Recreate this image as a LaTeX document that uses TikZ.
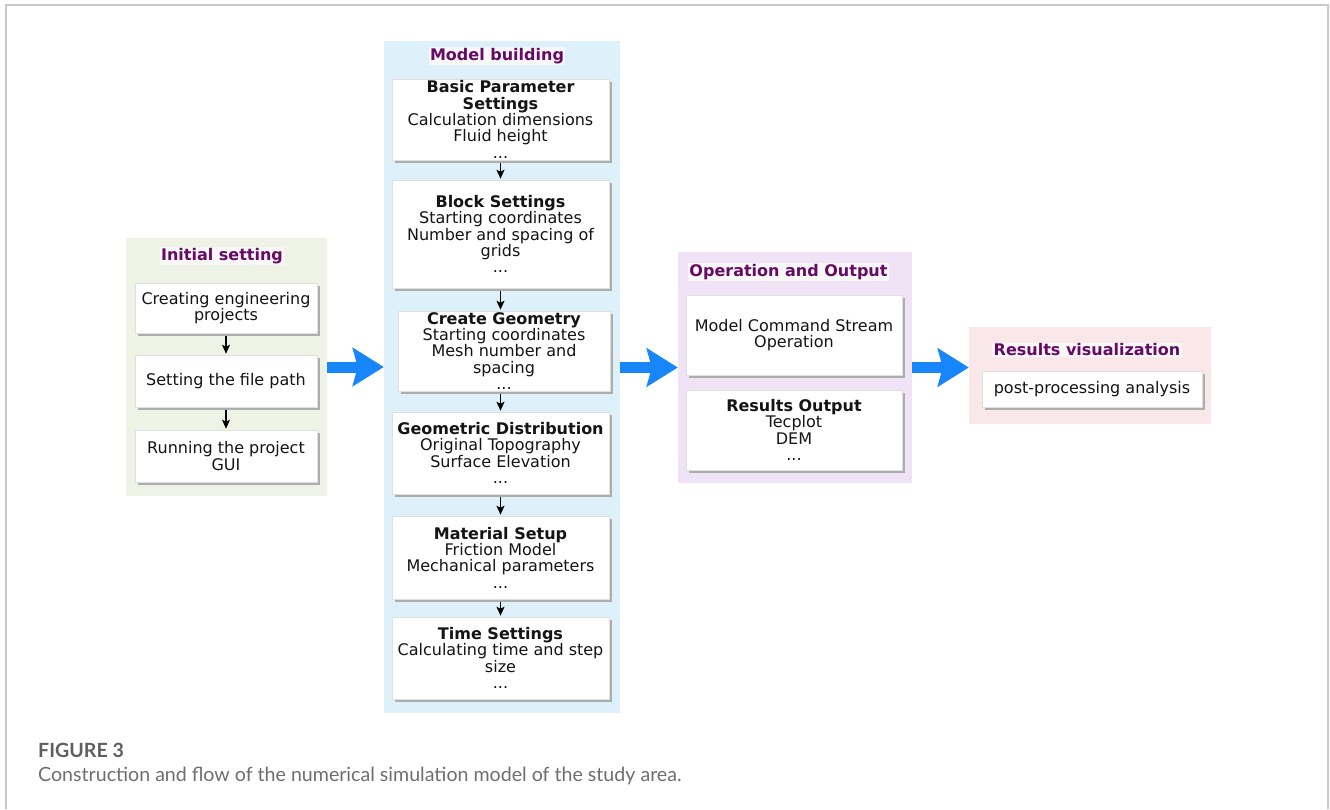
\documentclass[tikz,border=0pt]{standalone}
\usepackage{fontspec}
\setmainfont{DejaVu Sans}
\newfontfamily\capfont{Lato}
\usetikzlibrary{arrows.meta,shadows}
\definecolor{pgreen}{RGB}{238,243,230}
\definecolor{pblue}{RGB}{222,241,250}
\definecolor{plav}{RGB}{239,227,245}
\definecolor{ppink}{RGB}{250,231,234}
\definecolor{tpurple}{RGB}{102,10,102}
\definecolor{barrow}{RGB}{22,134,250}
\definecolor{capgray}{RGB}{110,110,110}
\definecolor{capdark}{RGB}{95,95,95}
\definecolor{framegray}{RGB}{200,200,200}
\tikzset{
  panel/.style={fill=#1, draw=none, inner sep=0pt},
  ptitle/.style={font=\fontsize{16}{17}\selectfont\bfseries, text=tpurple, fill=black!3, inner xsep=1.5pt, inner ysep=1pt},
  sbox/.style={fill=white, draw=black!12, line width=0.6pt, inner xsep=0pt, inner ysep=0pt, align=center,
     font=\fontsize{16}{16.3}\selectfont, text=black!92,
     general shadow={fill=black!32, shadow xshift=3pt, shadow yshift=-3pt}},
  flow/.style={-{Stealth[length=9pt,width=8pt,inset=2pt]}, line width=1.1pt, black, shorten <=3pt, shorten >=1pt},
  bigarrow/.style={line width=11pt, barrow, -{Stealth[length=31pt,width=38pt,inset=5pt]}},
  captext/.style={anchor=base west, inner sep=0pt, font=\capfont\fontsize{19.6}{22}\selectfont},
}
\begin{document}
\begin{tikzpicture}[x=1pt,y=-1pt]
\useasboundingbox (0,0) rectangle (1330,809);
% frame
\draw[framegray, line width=1.4pt] (6,809) -- (6,4.5) -- (1328,4.5) -- (1328,809);
\draw[framegray, line width=2pt] (6,4.5) -- (1328,4.5);

% panels
\node[panel=pgreen, minimum width=201pt, minimum height=258pt] (p1) at (226.5,367) {};
\node[panel=pblue, minimum width=236pt, minimum height=672pt] (p2) at (502,377) {};
\node[panel=plav, minimum width=234pt, minimum height=231pt] (p3) at (795,367.5) {};
\node[panel=ppink, minimum width=242pt, minimum height=97pt] (p4) at (1090,375.5) {};

% titles
\node[ptitle] (t1) at (222,256) {Initial setting};
\node[ptitle] (t2) at (497,56) {Model building};
\node[ptitle] (t3) at (788.5,272) {Operation and Output};
\node[ptitle] (t4) at (1087,350) {Results visualization};

% initial setting boxes
\node[sbox, minimum width=182pt, minimum height=50pt] (b1) at (226,308) {Creating engineering\\projects};
\node[sbox, minimum width=182pt, minimum height=52pt] (b2) at (226,381) {Setting the file path};
\node[sbox, minimum width=182pt, minimum height=52pt] (b3) at (226,456) {Running the project\\GUI};
\draw[flow] (b1) -- (b2);
\draw[flow] (b2) -- (b3);

% model building boxes
\node[sbox, minimum width=217pt, minimum height=81pt] (m1) at (500.5,119.5)
  {\textbf{Basic Parameter}\\\textbf{Settings}\\Calculation dimensions\\Fluid height\\...};
\node[sbox, minimum width=217pt, minimum height=108pt] (m2) at (500.5,234)
  {\textbf{Block Settings}\\Starting coordinates\\Number and spacing of\\grids\\...};
\node[sbox, minimum width=212pt, minimum height=80pt] (m3) at (504,351)
  {\textbf{Create Geometry}\\Starting coordinates\\Mesh number and\\spacing\\...};
\node[sbox, minimum width=217pt, minimum height=82pt] (m4) at (500.5,453)
  {\textbf{Geometric Distribution}\\Original Topography\\Surface Elevation\\...};
\node[sbox, minimum width=217pt, minimum height=83pt] (m5) at (500.5,557.5)
  {\textbf{Material Setup}\\Friction Model\\Mechanical parameters\\...};
\node[sbox, minimum width=217pt, minimum height=82pt] (m6) at (500.5,658)
  {\textbf{Time Settings}\\Calculating time and step\\size\\...};
\draw[flow] (m1.south) -- (m1.south |- m2.north);
\draw[flow] (m2.south) -- (m2.south |- m3.north);
\draw[flow] (m4.north |- m3.south) -- (m4.north);
\draw[flow] (m4.south) -- (m5.north);
\draw[flow] (m5.south) -- (m6.north);

% operation and output boxes
\node[sbox, minimum width=216pt, minimum height=80pt] (o1) at (794,335)
  {Model Command Stream\\Operation};
\node[sbox, minimum width=216pt, minimum height=80pt] (o2) at (794,430)
  {\textbf{Results Output}\\Tecplot\\DEM\\...};

% results visualization box
\node[sbox, minimum width=220pt, minimum height=36pt] (r1) at (1092,389) {post-processing analysis};

% big arrows
\draw[bigarrow] (p1.east) -- (p1.east -| p2.west);
\draw[bigarrow] (p3.west -| p2.east) -- (p3.west);
\draw[bigarrow] (p3.east) -- (p3.east -| p4.west);

% caption
\node[captext, text=capdark, font=\capfont\bfseries\fontsize{19.6}{22}\selectfont] (cap1) at (38,757) {FIGURE 3};
\node[captext, text=capgray] (cap2) at (38,781) {Construction and flow of the numerical simulation model of the study area.};
\end{tikzpicture}
\end{document}
